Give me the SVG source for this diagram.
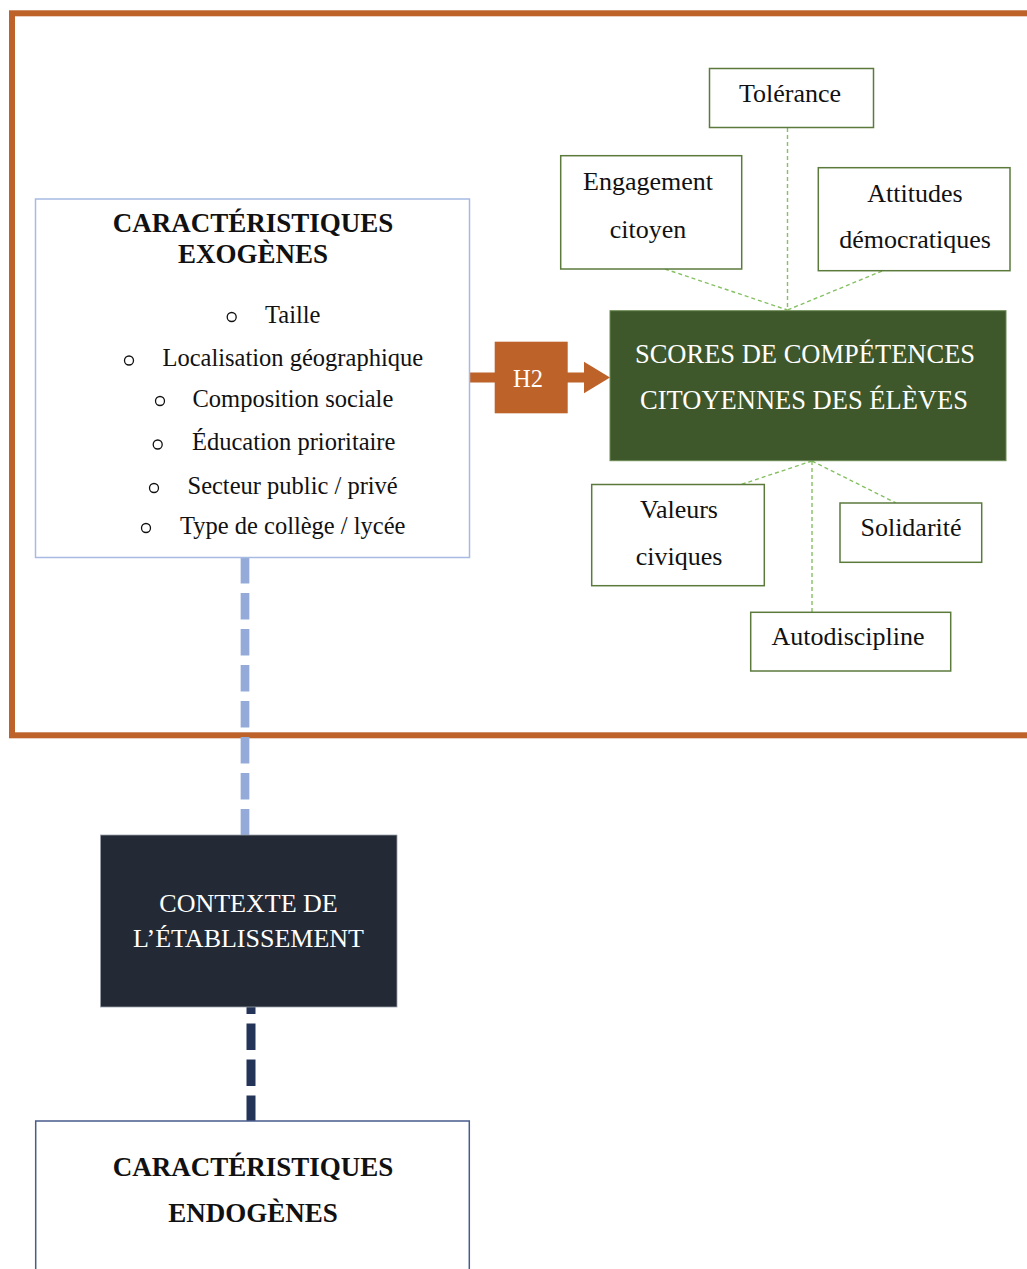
<svg xmlns="http://www.w3.org/2000/svg" width="1027" height="1269" viewBox="0 0 1027 1269">
<style>
text{font-family:"Liberation Serif","Times New Roman",serif;fill:#111;text-anchor:middle}
.b{font-weight:bold;font-size:27px}
.it{font-size:24.5px;text-anchor:start}
.g{font-size:26px}
.w{fill:#fff;font-size:26.5px}
.leaf{fill:#fff;stroke:#5b7a3c;stroke-width:1.5}
.gd{stroke:#86c062;stroke-width:1.4;stroke-dasharray:4 3;fill:none}
.bul{fill:none;stroke:#111;stroke-width:1.3}
</style>
<rect width="1027" height="1269" fill="#fff"/>
<rect id="frame" x="12" y="13.3" width="1030" height="722" fill="none" stroke="#bd6229" stroke-width="6"/>
<g id="connectors">
<line x1="245" y1="557" x2="245" y2="835" stroke="#94abd9" stroke-width="8.7" stroke-dasharray="26.6 9.4"/>
<line x1="251" y1="1007" x2="251" y2="1121" stroke="#243458" stroke-width="9" stroke-dasharray="26.6 9.4" stroke-dashoffset="19.6"/>
<rect x="469" y="372.5" width="26" height="10" fill="#bd6229"/>
<rect x="567" y="372.5" width="18" height="10" fill="#bd6229"/>
<polygon points="584,361.7 610,377.5 584,393.3" fill="#bd6229"/>
<line class="gd" x1="787.5" y1="128" x2="787.5" y2="310"/>
<line class="gd" x1="665" y1="269" x2="787.5" y2="310"/>
<line class="gd" x1="882" y1="271" x2="787.5" y2="310"/>
<line class="gd" x1="812" y1="461" x2="741" y2="484.5"/>
<line class="gd" x1="812" y1="461" x2="896" y2="503"/>
<line class="gd" x1="812" y1="461" x2="812" y2="612"/>
</g>
<g id="exogenes">
<rect x="35.5" y="199" width="434" height="358.5" fill="#fff" stroke="#a7bbe2" stroke-width="1.5"/>
<text class="b" x="253" y="232">CARACTÉRISTIQUES</text>
<text class="b" x="253" y="263">EXOGÈNES</text>
<circle class="bul" cx="231.7" cy="317" r="4.5"/>
<text class="it" x="265" y="322.5">Taille</text>
<circle class="bul" cx="129" cy="360.5" r="4.5"/>
<text class="it" x="162.5" y="366">Localisation géographique</text>
<circle class="bul" cx="160" cy="401" r="4.5"/>
<text class="it" x="192.5" y="406.5">Composition sociale</text>
<circle class="bul" cx="157.7" cy="444.5" r="4.5"/>
<text class="it" x="192" y="450">Éducation prioritaire</text>
<circle class="bul" cx="154" cy="488" r="4.5"/>
<text class="it" x="187.5" y="493.5">Secteur public / privé</text>
<circle class="bul" cx="146" cy="528" r="4.5"/>
<text class="it" x="180" y="533.5">Type de collège / lycée</text>
</g>
<g id="h2">
<rect x="494.7" y="341.7" width="73" height="71.6" fill="#bd6229"/>
<text x="528" y="386.7" style="fill:#fff;font-size:24.5px">H2</text>
</g>
<g id="scores">
<rect x="610" y="310.7" width="396" height="150" fill="#3f582b" stroke="#6b8a52" stroke-width="1"/>
<text class="w" x="805" y="362.7">SCORES DE COMPÉTENCES</text>
<text class="w" x="804" y="409.3">CITOYENNES DES ÉLÈVES</text>
</g>
<g id="tolerance">
<rect class="leaf" x="709.5" y="68.5" width="164" height="59"/>
<text class="g" x="790" y="101.5">Tolérance</text>
</g>
<g id="engagement">
<rect class="leaf" x="560.7" y="155.7" width="181" height="113.3"/>
<text class="g" x="648" y="189.5">Engagement</text>
<text class="g" x="648" y="238">citoyen</text>
</g>
<g id="attitudes">
<rect class="leaf" x="818.3" y="167.7" width="191.7" height="103"/>
<text class="g" x="915" y="201.5">Attitudes</text>
<text class="g" x="915" y="247.5">démocratiques</text>
</g>
<g id="valeurs">
<rect class="leaf" x="591.7" y="484.5" width="172.6" height="101.2"/>
<text class="g" x="679" y="518">Valeurs</text>
<text class="g" x="679" y="564.5">civiques</text>
</g>
<g id="solidarite">
<rect class="leaf" x="840" y="503" width="141.7" height="59.3"/>
<text class="g" x="911" y="536">Solidarité</text>
</g>
<g id="autodiscipline">
<rect class="leaf" x="750.7" y="612.3" width="200" height="58.7"/>
<text class="g" x="848" y="645">Autodiscipline</text>
</g>
<g id="contexte">
<rect x="100.5" y="835" width="296.5" height="172" fill="#242a35" stroke="#9aa0aa" stroke-width="0.8"/>
<text class="w" x="248.5" y="912" style="font-size:26px">CONTEXTE DE</text>
<text class="w" x="248.5" y="946.5" style="font-size:26px">L’ÉTABLISSEMENT</text>
</g>
<g id="endogenes">
<rect x="35.7" y="1121" width="433.6" height="160" fill="#fff" stroke="#4a5b8c" stroke-width="1.5"/>
<text class="b" x="253" y="1176">CARACTÉRISTIQUES</text>
<text class="b" x="253" y="1222">ENDOGÈNES</text>
</g>
</svg>
